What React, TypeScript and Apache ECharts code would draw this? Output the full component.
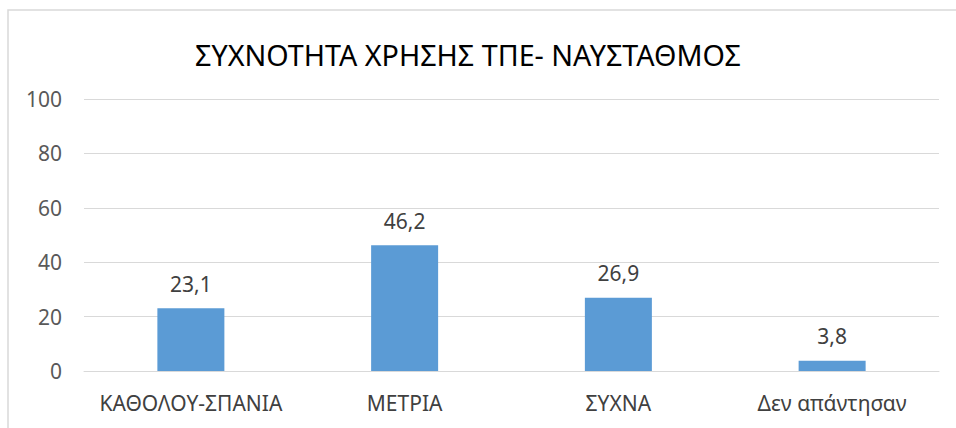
import React, { useEffect, useRef } from "react";
import * as echarts from "echarts";

const categories = ["ΚΑΘΟΛΟΥ-ΣΠΑΝΙΑ", "ΜΕΤΡΙΑ", "ΣΥΧΝΑ", "Δεν απάντησαν"];
const values = [23.1, 46.2, 26.9, 3.8];
const titleText = "ΣΥΧΝΟΤΗΤΑ ΧΡΗΣΗΣ ΤΠΕ- ΝΑΥΣΤΑΘΜΟΣ";

export default function App() {
  const ref = useRef<HTMLDivElement>(null);
  useEffect(() => {
    if (!ref.current) return;
    const chart = echarts.init(ref.current, null, { renderer: "svg" });
    chart.setOption({
      animation: false,
      backgroundColor: "#ffffff",
      textStyle: { fontFamily: "Noto Sans" },
      graphic: [
        {
          type: "rect",
          shape: { x: 8, y: 10, width: 960, height: 430 },
          style: { fill: "none", stroke: "#D9D9D9", lineWidth: 1.5 },
          silent: true,
        },
      ],
      title: {
        text: titleText,
        left: 463,
        top: 35,
        textAlign: "center",
        textStyle: { fontFamily: "Noto Sans", fontSize: 28.7, fontWeight: "normal", color: "#000000" },
      },
      grid: { left: 84, right: 17, top: 99, bottom: 57 },
      xAxis: {
        type: "category",
        data: categories,
        axisLine: { show: true, lineStyle: { color: "#D9D9D9", width: 1 } },
        axisTick: { show: false },
        axisLabel: { color: "#404040", fontSize: 21, margin: 21, interval: 0, fontFamily: "Noto Sans" },
      },
      yAxis: {
        type: "value",
        min: 0,
        max: 100,
        interval: 20,
        axisLine: { show: false },
        axisTick: { show: false },
        splitLine: { lineStyle: { color: "#D9D9D9", width: 1 } },
        axisLabel: { color: "#595959", fontSize: 21, margin: 22, fontFamily: "Noto Sans" },
      },
      series: [
        {
          type: "bar",
          data: values,
          barWidth: 67,
          itemStyle: { color: "#5B9BD5" },
          label: {
            show: true,
            position: "top",
            distance: 14,
            color: "#404040",
            fontSize: 21,
            fontFamily: "Noto Sans",
            formatter: (p: any) => String(p.value).replace(".", ","),
          },
        },
      ],
    });
    return () => chart.dispose();
  }, []);
  return (
    <div
      ref={ref}
      style={{ position: "absolute", left: 0, top: 0, width: 956, height: 428 }}
    />
  );
}
